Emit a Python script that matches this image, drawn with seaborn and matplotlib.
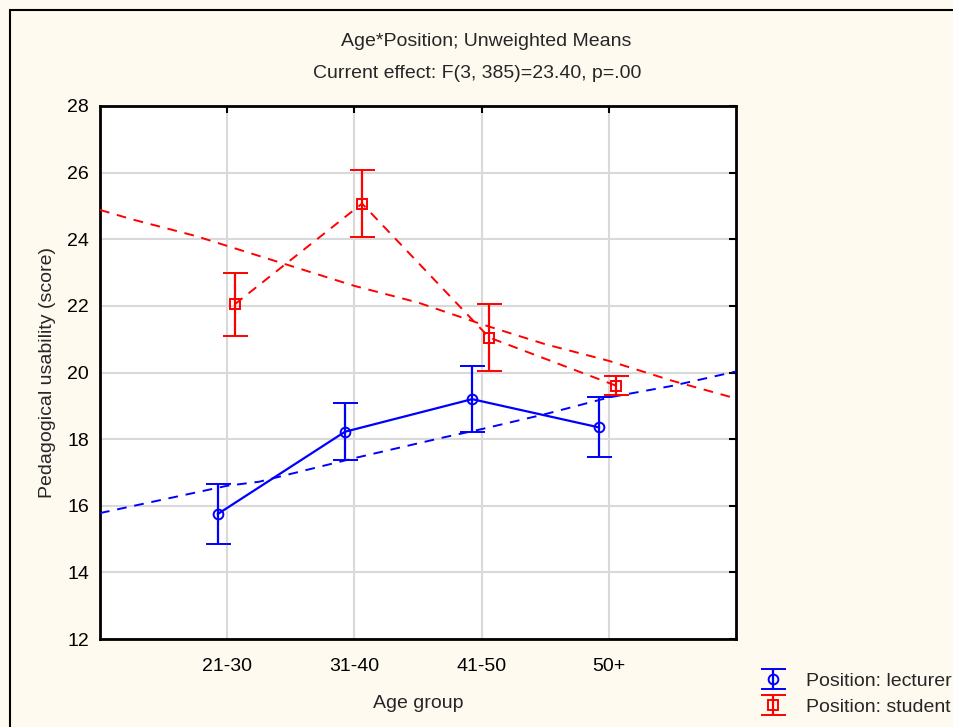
import matplotlib
matplotlib.use("Agg")
import matplotlib.pyplot as plt
import seaborn as sns
import numpy as np
import pandas as pd
from matplotlib.patches import Rectangle

# data
age_groups = ["21-30", "31-40", "41-50", "50+"]
lecturer_mean = [15.75, 18.22, 19.2, 18.35]
lecturer_err = [0.9, 0.85, 1.0, 0.9]
student_mean = [22.05, 25.07, 21.05, 19.6]
student_err = [0.95, 1.0, 1.0, 0.28]

# dashed trend curves (x in category units)
lecturer_trend_x = [-1, 0, 0.25, 1, 1.7, 2, 2.5, 3, 3.5, 4]
lecturer_trend_y = [15.78, 16.6, 16.72, 17.43, 18.05, 18.3, 18.75, 19.25, 19.6, 20.03]
student_trend_x = [-1, -0.75, -0.25, 0, 0.5, 1, 1.5, 2, 2.5, 3, 3.5, 4]
student_trend_y = [24.88, 24.6, 24.1, 23.8, 23.2, 22.6, 22.1, 21.45, 20.85, 20.35, 19.75, 19.22]

sns.set_theme(style="white")
plt.rcParams["font.family"] = ["Liberation Sans", "DejaVu Sans"]

bg = "#FFFAF0"
blue = "#0000FF"
red = "#FF0000"
fs = 14

fig = plt.figure(figsize=(9.54, 7.27), dpi=100, facecolor=bg)
ax = fig.add_axes([100 / 954, 1 - 639 / 727, 636 / 954, 533 / 727])
ax.set_facecolor("white")

pos = np.arange(len(age_groups))
lx = pos - 0.075
sx = pos + 0.06

trend = pd.DataFrame({
    "x": lecturer_trend_x + student_trend_x,
    "y": lecturer_trend_y + student_trend_y,
    "group": ["lecturer"] * len(lecturer_trend_x) + ["student"] * len(student_trend_x),
})
for g, col in [("lecturer", blue), ("student", red)]:
    sns.lineplot(data=trend[trend.group == g], x="x", y="y", ax=ax, color=col,
                 lw=1.4, linestyle=(0, (5, 4)), sort=False, zorder=3)

means = pd.DataFrame({"x": lx, "y": lecturer_mean})
sns.lineplot(data=means, x="x", y="y", ax=ax, color=blue, lw=1.6, zorder=4)
means_s = pd.DataFrame({"x": sx, "y": student_mean})
sns.lineplot(data=means_s, x="x", y="y", ax=ax, color=red, lw=1.4,
             linestyle=(0, (5, 4)), zorder=4)

h1 = ax.errorbar(lx, lecturer_mean, yerr=lecturer_err, fmt="o", mfc="none",
                 mec=blue, mew=1.4, ms=7, ecolor=blue, elinewidth=1.6,
                 capsize=9, capthick=1.6, color=blue, lw=0, zorder=5)
h2 = ax.errorbar(sx, student_mean, yerr=student_err, fmt="s", mfc="none",
                 mec=red, mew=1.4, ms=7, ecolor=red, elinewidth=1.6,
                 capsize=9, capthick=1.6, color=red, lw=0, zorder=5)

ax.set_xlim(-1, 4)
ax.set_ylim(12, 28)
ax.set_yticks(range(12, 29, 2))
ax.set_xticks(pos)
ax.set_xticklabels(age_groups)
ax.grid(True, color="#D9D9D9", lw=1.5, zorder=0)
ax.set_axisbelow(True)
for s in ax.spines.values():
    s.set_color("black")
    s.set_linewidth(2)
ax.tick_params(direction="in", length=5, width=1.5, colors="black",
               top=True, right=True, labelsize=fs)
ax.tick_params(axis="x", pad=14)
ax.tick_params(axis="y", pad=8)
ax.set_xlabel("Age group", fontsize=fs, labelpad=14)
ax.set_ylabel("Pedagogical usability (score)", fontsize=fs, labelpad=8)

fig.text(0.51, 1 - 41 / 727, "Age*Position; Unweighted Means", ha="center",
         va="center", fontsize=fs)
fig.text(0.5, 1 - 73 / 727, "Current effect: F(3, 385)=23.40, p=.00",
         ha="center", va="center", fontsize=fs)

# outer frame (left and top edges visible)
fig.patches.append(Rectangle((10 / 954, -0.1), 1.2, 1 - 10 / 727 + 0.1,
                             transform=fig.transFigure, fill=False,
                             edgecolor="black", lw=1.5))

fig.legend([h1, h2], ["Position: lecturer", "Position: student"],
           loc="upper left", bbox_to_anchor=(752 / 954, 1 - 672 / 727),
           frameon=False, fontsize=fs, handlelength=2.2, handletextpad=0.6,
           labelspacing=0.45, borderaxespad=0, borderpad=0)

fig.savefig("out.png", dpi=100, facecolor=bg)
